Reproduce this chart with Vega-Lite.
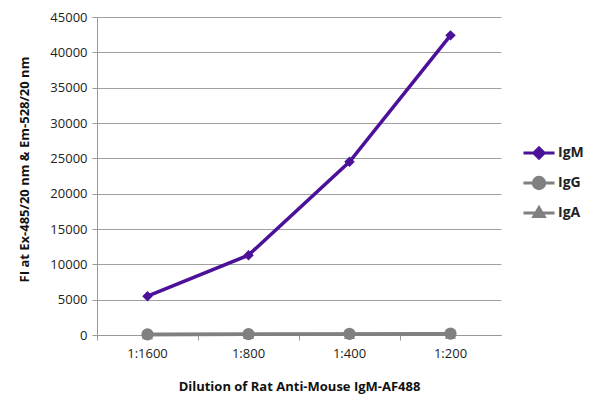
{
  "$schema": "https://vega.github.io/schema/vega-lite/v6.json",
  "width": 404,
  "height": 318,
  "autosize": {"type": "none"},
  "padding": {"left": 97, "top": 17, "right": 99, "bottom": 72},
  "background": "white",
  "config": {
    "font": "Open Sans",
    "view": {"stroke": null},
    "axis": {"labelFont": "Open Sans", "titleFont": "Open Sans"}
  },
  "data": {
    "values": [
      {"dilution": "1:1600", "isotype": "IgM", "value": 5500},
      {"dilution": "1:800", "isotype": "IgM", "value": 11300},
      {"dilution": "1:400", "isotype": "IgM", "value": 24500},
      {"dilution": "1:200", "isotype": "IgM", "value": 42400},
      {"dilution": "1:1600", "isotype": "IgA", "value": 60},
      {"dilution": "1:800", "isotype": "IgA", "value": 90},
      {"dilution": "1:400", "isotype": "IgA", "value": 120},
      {"dilution": "1:200", "isotype": "IgA", "value": 150},
      {"dilution": "1:1600", "isotype": "IgG", "value": 80},
      {"dilution": "1:800", "isotype": "IgG", "value": 120},
      {"dilution": "1:400", "isotype": "IgG", "value": 150},
      {"dilution": "1:200", "isotype": "IgG", "value": 190}
    ]
  },
  "encoding": {
    "x": {
      "field": "dilution",
      "type": "ordinal",
      "sort": ["1:1600", "1:800", "1:400", "1:200"],
      "scale": {"type": "band", "paddingInner": 0, "paddingOuter": 0},
      "axis": {
        "title": "Dilution of Rat Anti-Mouse IgM-AF488",
        "titleFontSize": 13,
        "titleFontWeight": "bold",
        "titleColor": "#111",
        "titleY": 51,
        "titleBaseline": "middle",
        "labelAngle": 0,
        "labelFontSize": 13,
        "labelColor": "#222",
        "labelPadding": 7,
        "bandPosition": 0,
        "tickColor": "#999",
        "tickSize": 5,
        "domainColor": "#999",
        "grid": false
      }
    },
    "y": {
      "field": "value",
      "type": "quantitative",
      "scale": {"domain": [0, 45000], "nice": false},
      "axis": {
        "title": "FI at Ex-485/20 nm & Em-528/20 nm",
        "titleFontSize": 13,
        "titleFontWeight": "bold",
        "titleColor": "#111",
        "titleX": -73,
        "titleY": 152,
        "titleBaseline": "middle",
        "values": [0, 5000, 10000, 15000, 20000, 25000, 30000, 35000, 40000, 45000],
        "format": "d",
        "labelFontSize": 13,
        "labelColor": "#222",
        "labelPadding": 5,
        "tickColor": "#999",
        "tickSize": 5,
        "domainColor": "#999",
        "gridColor": "#a0a0a0",
        "gridWidth": 1
      }
    },
    "color": {
      "field": "isotype",
      "type": "nominal",
      "scale": {"domain": ["IgM", "IgG", "IgA"], "range": ["#4B1199", "#808080", "#808080"]},
      "legend": {
        "title": null,
        "orient": "none",
        "legendX": 435,
        "legendY": 129,
        "symbolSize": 107,
        "symbolStrokeWidth": 3,
        "labelFontSize": 14,
        "labelFontWeight": "bold",
        "labelColor": "#222",
        "labelOffset": 12,
        "rowPadding": 6,
        "encode": {
          "symbols": {
            "update": {
              "shape": {"signal": "datum.value === 'IgM' ? 'M-3,0L3,0M-1,0L0,-1L1,0L0,1Z' : datum.value === 'IgG' ? 'M-3,0L3,0M-1.1,0A1.1,1.1 0 1,0 1.1,0A1.1,1.1 0 1,0 -1.1,0Z' : 'M-3,0L3,0M-1,0.7L0,-1L1,0.7Z'"},
              "fill": {"signal": "datum.value === 'IgM' ? '#4B1199' : '#808080'"},
              "stroke": {"signal": "datum.value === 'IgM' ? '#4B1199' : '#808080'"},
              "opacity": {"value": 1}
            }
          }
        }
      }
    }
  },
  "layer": [
    {
      "mark": {"type": "line", "strokeWidth": 3.5},
      "encoding": {"detail": {"field": "isotype"}}
    },
    {
      "transform": [{"filter": "datum.isotype === 'IgA'"}],
      "mark": {"type": "point", "filled": true, "opacity": 1, "size": 120, "shape": "triangle-up"}
    },
    {
      "transform": [{"filter": "datum.isotype === 'IgG'"}],
      "mark": {"type": "point", "filled": true, "opacity": 1, "size": 150, "shape": "circle"}
    },
    {
      "transform": [{"filter": "datum.isotype === 'IgM'"}],
      "mark": {"type": "point", "filled": true, "opacity": 1, "size": 110, "shape": "diamond"}
    }
  ]
}
